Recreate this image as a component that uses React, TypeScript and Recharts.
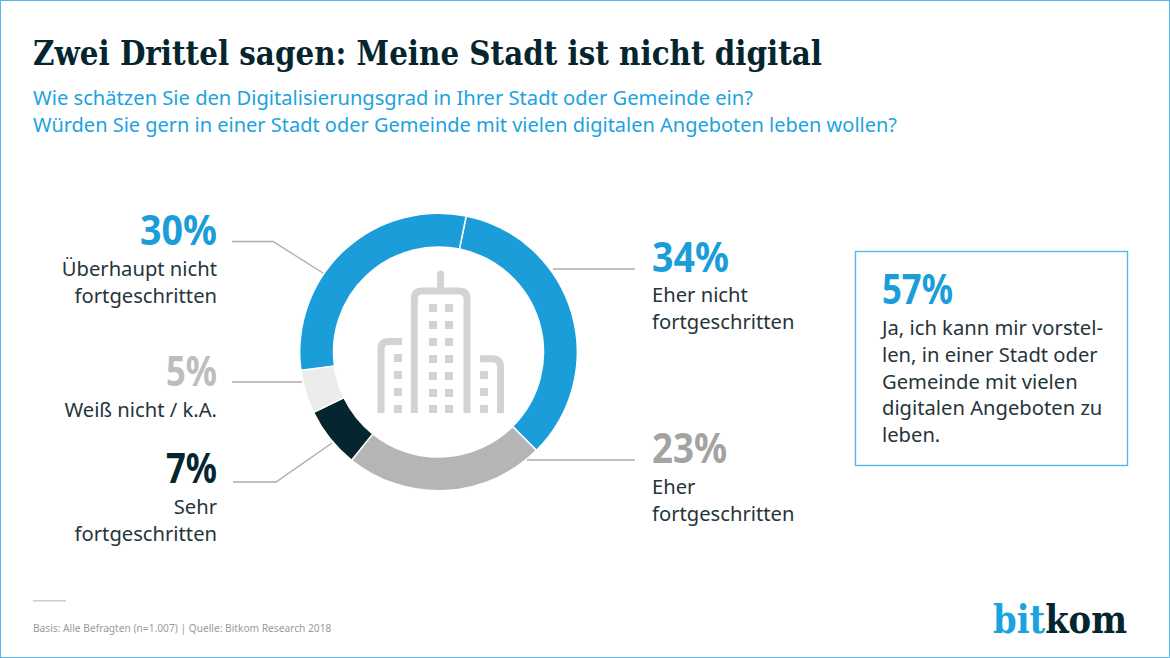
import React from 'react';
import { PieChart, Pie, Cell } from 'recharts';

const answers = ['Eher nicht fortgeschritten', 'Eher fortgeschritten', 'Sehr fortgeschritten', 'Weiß nicht / k.A.', 'Überhaupt nicht fortgeschritten'];
const shares = [34, 23, 7, 5, 30];
const COLORS = ['#1b9dd9', '#b5b5b5', '#06262f', '#ececec', '#1b9dd9'];

const data = answers.map((name, i) => ({ name, value: shares[i] }));

const BLUE = '#1b9dd9';
const SKY = '#1ba3e0';
const FRAME = '#55b7ea';
const DARK = '#06262f';
const BODY = '#26353b';
const SANS = '"Noto Sans", sans-serif';
const SLAB = '"DejaVu Serif", serif';

const towerRows = [304, 321, 338, 355, 372, 389, 405];
const towerCols = [429, 445];
const leftRows = [354, 371, 388, 405];
const rightRows = [371, 388, 405];

function Big({ x, y, anchor, color, width, children }: any) {
  return (
    <text x={x} y={y} textAnchor={anchor} fill={color} fontFamily={SANS} fontWeight={700} fontSize={42} textLength={width} lengthAdjust="spacingAndGlyphs">
      {children}
    </text>
  );
}

function Line({ x, y, anchor = 'start', children }: any) {
  return (
    <text x={x} y={y} textAnchor={anchor} fill={BODY} fontFamily={SANS} fontSize={20.2}>
      {children}
    </text>
  );
}

function Icon() {
  const c = '#d3d3d3';
  return (
    <g>
      <path d="M414.3 413 V299 Q414.3 291 422 291 H459 Q467 291 467 299 V413" fill="none" stroke={c} strokeWidth={7} />
      <line x1={440.6} y1={274} x2={440.6} y2={290} stroke={c} strokeWidth={7} strokeLinecap="round" />
      <path d="M381 413 V349 Q381 341.5 389 341.5 H402" fill="none" stroke={c} strokeWidth={7} />
      <path d="M500.5 413 V367 Q500.5 358.7 492 358.7 H480" fill="none" stroke={c} strokeWidth={7} />
      {towerRows.map((y) =>
        towerCols.map((x) => <rect key={`${x}-${y}`} x={x} y={y} width={8} height={8} fill={c} />),
      )}
      {leftRows.map((y) => <rect key={`l-${y}`} x={394} y={y} width={8} height={8} fill={c} />)}
      {rightRows.map((y) => <rect key={`r-${y}`} x={480} y={y} width={8} height={8} fill={c} />)}
    </g>
  );
}

export default function App() {
  return (
    <div style={{ position: 'absolute', left: 0, top: 0, width: 1170, height: 658, background: '#fff' }}>
      <div style={{ position: 'absolute', left: 0, top: 0 }}>
        <PieChart width={1170} height={658} margin={{ top: 0, right: 0, bottom: 0, left: 0 }}>
          <Pie
            data={data}
            dataKey="value"
            cx={438.5}
            cy={352}
            innerRadius={105}
            outerRadius={138.8}
            startAngle={78.5}
            endAngle={-281.5}
            stroke="#fff"
            strokeWidth={1.5}
            isAnimationActive={false}
          >
            {data.map((entry, index) => (
              <Cell key={`cell-${index}`} fill={COLORS[index % COLORS.length]} />
            ))}
          </Pie>
        </PieChart>
      </div>
      <svg width={1170} height={658} style={{ position: 'absolute', left: 0, top: 0, pointerEvents: 'none' }}>
        <rect x={0.5} y={0.5} width={1169} height={657} fill="none" stroke={FRAME} />

        <text x={33} y={65} fill={DARK} fontFamily={SLAB} fontWeight={700} fontSize={34} textLength={789} lengthAdjust="spacingAndGlyphs">
          Zwei Drittel sagen: Meine Stadt ist nicht digital
        </text>
        <text x={33} y={105} fill={SKY} fontFamily={SANS} fontSize={20} textLength={720} lengthAdjust="spacingAndGlyphs">
          Wie schätzen Sie den Digitalisierungsgrad in Ihrer Stadt oder Gemeinde ein?
        </text>
        <text x={33} y={132} fill={SKY} fontFamily={SANS} fontSize={20} textLength={864} lengthAdjust="spacingAndGlyphs">
          Würden Sie gern in einer Stadt oder Gemeinde mit vielen digitalen Angeboten leben wollen?
        </text>

        <Icon />

        <g fill="none" stroke="#aaa" strokeWidth={1.3}>
          <polyline points="232,241.5 273,241.5 323,273" />
          <polyline points="232,382 302,382" />
          <polyline points="233,482 276,482 332,443" />
          <polyline points="553,269 635,269" />
          <polyline points="527,460 635,460" />
        </g>

        <Big x={217} y={245} anchor="end" color={BLUE} width={77}>{shares[4]}%</Big>
        <Line x={217} y={276} anchor="end">Überhaupt nicht</Line>
        <Line x={217} y={303} anchor="end">fortgeschritten</Line>

        <Big x={217} y={386} anchor="end" color="#bdbdbd" width={51}>{shares[3]}%</Big>
        <Line x={217} y={417} anchor="end">Weiß nicht / k.A.</Line>

        <Big x={217} y={482.5} anchor="end" color={DARK} width={51}>{shares[2]}%</Big>
        <Line x={217} y={514} anchor="end">Sehr</Line>
        <Line x={217} y={541} anchor="end">fortgeschritten</Line>

        <Big x={652} y={272} anchor="start" color={BLUE} width={77}>{shares[0]}%</Big>
        <Line x={652} y={302}>Eher nicht</Line>
        <Line x={652} y={329}>fortgeschritten</Line>

        <Big x={652} y={463} anchor="start" color="#a3a3a3" width={75}>{shares[1]}%</Big>
        <Line x={652} y={494}>Eher</Line>
        <Line x={652} y={521}>fortgeschritten</Line>

        <rect x={855.5} y={251.5} width={272} height={214} fill="none" stroke={FRAME} strokeWidth={1.4} />
        <Big x={882} y={304} anchor="start" color={BLUE} width={71}>57%</Big>
        <Line x={882} y={335}>Ja, ich kann mir vorstel-</Line>
        <Line x={882} y={362}>len, in einer Stadt oder</Line>
        <Line x={882} y={388.5}>Gemeinde mit vielen</Line>
        <Line x={882} y={415}>digitalen Angeboten zu</Line>
        <Line x={882} y={442}>leben.</Line>

        <line x1={33} y1={600.7} x2={66} y2={600.7} stroke="#ccc" strokeWidth={1.4} />
        <text x={33} y={632} fill="#9a9a9a" fontFamily={SANS} fontSize={10.2}>
          Basis: Alle Befragten (n=1.007) | Quelle: Bitkom Research 2018
        </text>

        <text x={993} y={632.5} fontFamily={SLAB} fontWeight={700} fontSize={39} textLength={134} lengthAdjust="spacingAndGlyphs">
          <tspan fill={SKY}>bit</tspan>
          <tspan fill={DARK}>kom</tspan>
        </text>
      </svg>
    </div>
  );
}
